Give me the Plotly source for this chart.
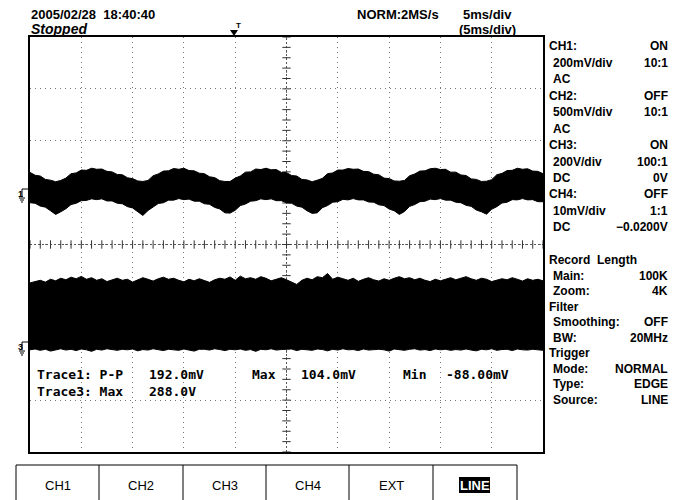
import numpy as np
import plotly.graph_objects as go

# ---------------- data (read from the screen capture) ----------------
# sample times in ms (5 ms/div, 10 div, trigger at 4 div)
t_ms = np.round(np.arange(-20.0, 30.0001, 0.5), 2)

# CH1 (AC, 200 mV/div): upper / lower envelope of the noisy band, mV
ch1_upper_mV = [88, 77, 74, 61, 58, 52,
                57, 66, 83, 86, 97, 96, 104, 100, 101, 92, 90, 80, 79, 67, 64, 55,
                53, 57, 75, 82, 93, 94, 103, 100, 104, 95, 94, 85, 83, 71, 68, 56, 53,
                53, 66, 74, 89, 90, 101, 99, 104, 98, 99, 88, 87, 76, 74, 61, 59, 52,
                58, 65, 83, 86, 97, 97, 103, 100, 101, 92, 91, 81, 79, 66, 64, 55,
                54, 57, 75, 82, 93, 94, 102, 104, 99, 100, 89, 89, 78, 76, 63, 61, 53,
                54, 60, 79, 84, 95, 96, 104, 100, 102, 93, 92, 83]
ch1_lower_mV = [-29, -31, -42, -46, -60, -74,
                -64, -52, -36, -31, -21, -20, -14, -17, -14, -22, -22, -31, -33, -44, -49, -64,
                -78, -59, -47, -32, -29, -19, -19, -13, -17, -15, -23, -23, -33, -35, -47, -53, -68,
                -69, -58, -40, -34, -23, -21, -14, -17, -14, -21, -21, -29, -31, -42, -46, -60, -70,
                -68, -48, -40, -27, -25, -16, -18, -13, -18, -18, -26, -27, -37, -40, -53, -60,
                -74, -63, -43, -36, -25, -23, -15, -17, -13, -19, -19, -27, -29, -39, -43, -57, -64,
                -73, -54, -44, -30, -27, -17, -18, -13, -18, -17, -25, -25]

# CH3 (DC, 200 V/div): switching waveform envelope, V
ch3_upper_V = [252, 258, 262, 255, 266, 260, 270, 264, 274, 268, 277, 266, 272, 262, 268, 257, 264,
               270, 262, 266, 255, 264, 272, 266, 259, 268, 274, 266, 270, 262, 256, 266, 260, 268,
               262, 254, 264, 270, 266, 275, 262, 278, 268, 272, 266, 276, 270, 260, 266, 272, 264,
               256, 246, 262, 270, 264, 276, 272, 288, 266, 274, 268, 262, 270, 258, 266, 272, 264,
               259, 268, 262, 270, 276, 268, 272, 264, 270, 262, 257, 266, 260, 266, 272, 264, 270,
               276, 268, 262, 270, 266, 257, 262, 268, 264, 272, 266, 259, 268, 262, 266, 260]
ch3_lower_V = [-6, -3, -8, -4, -11, -5, -2, -7, -4, -9, -3, -6, -12, -4, -7, -2, -5,
               -8, -4, -6, -3, -10, -5, -7, -2, -6, -9, -4, -5, -8, -3, -6, -11, -4,
               -4, -7, -2, -5, -9, -4, -6, -3, -8, -5, -12, -4, -6, -2, -7, -5, -3,
               -3, -9, -4, -6, -8, -3, -5, -10, -4, -7, -2, -6, -5, -9, -3, -7, -6,
               -4, -6, -11, -3, -5, -8, -4, -2, -7, -5, -9, -3, -6, -4, -8, -5, -7,
               -3, -7, -10, -4, -6, -2, -8, -5, -4, -9, -3, -6, -7, -4, -5, -8]

CH1_MV_PER_DIV = 200
CH1_POS_DIV = 0.95
CH3_V_PER_DIV = 200
CH3_POS_DIV = -2.0

header_date = "2005/02/28\u00a0\u00a018:40:40"
status_text = "Stopped"
acq_text = "NORM:2MS/s"
tdiv_text = "5ms/div"
tdiv_zoom_text = "(5ms/div)"

panel_top = [("CH1:", "ON", False), ("200mV/div", "10:1", True), ("AC", "", True),
             ("CH2:", "OFF", False), ("500mV/div", "10:1", True), ("AC", "", True),
             ("CH3:", "ON", False), ("200V/div", "100:1", True), ("DC", "0V", True),
             ("CH4:", "OFF", False), ("10mV/div", "1:1", True), ("DC", "\u22120.0200V", True)]
panel_bottom = [("Record\u00a0\u00a0Length", "", False), ("Main:", "100K", True), ("Zoom:", "4K", True),
                ("Filter", "", False), ("Smoothing:", "OFF", True), ("BW:", "20MHz", True),
                ("Trigger", "", False), ("Mode:", "NORMAL", True), ("Type:", "EDGE", True),
                ("Source:", "LINE", True)]

trace1_cells = ["Trace1: P-P", "192.0mV", "Max", "104.0mV", "Min", "-88.00mV"]
trace3_cells = ["Trace3: Max", "288.0V"]
buttons = ["CH1", "CH2", "CH3", "CH4", "EXT", "LINE"]
selected_button = "LINE"

assert len(ch1_upper_mV) == len(t_ms) and len(ch1_lower_mV) == len(t_ms)
assert len(ch3_upper_V) == len(t_ms) and len(ch3_lower_V) == len(t_ms)

# ---------------- figure ----------------
W, H = 673, 500
L, R, T, B = 30, 543, 37, 452


def ax(px):
    return (px - L) / (R - L)


def ay(py):
    return (B - py) / (B - T)


ch1_up = np.array(ch1_upper_mV) / CH1_MV_PER_DIV + CH1_POS_DIV
ch1_lo = np.array(ch1_lower_mV) / CH1_MV_PER_DIV + CH1_POS_DIV
ch3_up = np.array(ch3_upper_V) / CH3_V_PER_DIV + CH3_POS_DIV
ch3_lo = np.array(ch3_lower_V) / CH3_V_PER_DIV + CH3_POS_DIV

fig = go.Figure()

# centre cross-hair with minor tick marks
fig.add_trace(go.Scatter(x=[-20, 30], y=[0, 0], mode="lines",
                         line=dict(color="#555", width=1, dash="2px,2px"),
                         hoverinfo="skip", showlegend=False))
fig.add_trace(go.Scatter(x=[5, 5], y=[-4, 4], mode="lines",
                         line=dict(color="#555", width=1, dash="2px,2px"),
                         hoverinfo="skip", showlegend=False))
hx = np.arange(-20, 30.01, 1.0)
fig.add_trace(go.Scatter(x=hx, y=np.zeros_like(hx), mode="markers",
                         marker=dict(symbol="line-ns", size=6, line=dict(width=1, color="#333")),
                         hoverinfo="skip", showlegend=False))
vy = np.arange(-4, 4.01, 0.2)
fig.add_trace(go.Scatter(x=np.full_like(vy, 5.0), y=vy, mode="markers",
                         marker=dict(symbol="line-ew", size=6, line=dict(width=1, color="#333")),
                         hoverinfo="skip", showlegend=False))

# waveforms
for lo, up in ((ch1_lo, ch1_up), (ch3_lo, ch3_up)):
    fig.add_trace(go.Scatter(x=t_ms, y=lo, mode="lines", line=dict(color="black", width=1),
                             hoverinfo="skip", showlegend=False))
    fig.add_trace(go.Scatter(x=t_ms, y=up, mode="lines", line=dict(color="black", width=1),
                             fill="tonexty", fillcolor="black",
                             hoverinfo="skip", showlegend=False))

ann = []
sans = "Liberation Sans, Arial, sans-serif"
mono = "DejaVu Sans Mono, Liberation Mono, monospace"


def text(x, y, s, size=12, anchor="left", bold=True, italic=False, family=sans, color="black"):
    if bold:
        s = f"<b>{s}</b>"
    if italic:
        s = f"<i>{s}</i>"
    ann.append(dict(x=ax(x), y=ay(y), xref="paper", yref="paper", text=s, showarrow=False,
                    xanchor=anchor, yanchor="middle",
                    font=dict(size=size, family=family, color=color)))


# header
text(29, 14, header_date, 13)
text(29, 29, status_text, 14, italic=True)
text(355, 14, acq_text, 13)
text(461, 14, tdiv_text, 13)
text(457, 30, tdiv_zoom_text, 13)
text(234, 25, "T", 8)

# right panel
for i, (lab, val, ind) in enumerate(panel_top):
    y = 46 + i * 16.5
    text(551 if ind else 547, y, lab, 12)
    if val:
        text(670, y, val, 12, anchor="right")
for i, (lab, val, ind) in enumerate(panel_bottom):
    y = 260 + i * 15.5
    text(551 if ind else 547, y, lab, 12)
    if val:
        text(670, y, val, 12, anchor="right")

# readouts
cols1 = [35, 147, 250, 299, 401, 444]
for c, s in zip(cols1, trace1_cells):
    text(c, 374, s, 13, family=mono)
for c, s in zip(cols1, trace3_cells):
    text(c, 391, s, 13, family=mono)

# ground markers
text(16, 194, "1", 9)
text(16, 347, "3", 9)

# buttons
bx = [16, 99, 183, 266, 349, 433, 517]
shapes = []


def seg(x0, y0, x1, y1, w=1, color="black"):
    shapes.append(dict(type="line", xref="paper", yref="paper", x0=ax(x0), y0=ay(y0),
                       x1=ax(x1), y1=ay(y1), line=dict(color=color, width=w)))


seg(bx[0], 465, bx[-1], 465, 1.2)
for x in bx:
    seg(x, 465, x, 500, 1)
for i, lab in enumerate(buttons):
    cx = (bx[i] + bx[i + 1]) / 2
    if lab == selected_button:
        shapes.append(dict(type="rect", xref="paper", yref="paper", x0=ax(cx - 16), x1=ax(cx + 15),
                           y0=ay(493), y1=ay(477), fillcolor="black", line=dict(width=0)))
        text(cx, 485, lab, 13, anchor="center", color="white")
    else:
        text(cx, 485, lab, 13, anchor="center", bold=False)

# trigger arrow
shapes.append(dict(type="path", xref="paper", yref="paper",
                   path=f"M {ax(230)},{ay(30)} L {ax(238)},{ay(30)} L {ax(234)},{ay(36)} Z",
                   fillcolor="black", line=dict(width=0)))

# ground symbols
for gy in (195, 348):
    seg(22, gy - 6, 22, gy + 2, 1)
    seg(22, gy - 6, 28, gy - 6, 1)
    seg(19, gy + 3, 25, gy + 3, 1)
    seg(20, gy + 5, 24, gy + 5, 1)
    seg(21, gy + 7, 23, gy + 7, 1)

fig.update_layout(
    width=W, height=H,
    margin=dict(l=L, r=W - R, t=T, b=H - B),
    paper_bgcolor="white", plot_bgcolor="white",
    showlegend=False,
    annotations=ann, shapes=shapes,
    xaxis=dict(range=[-20, 30], tick0=-20, dtick=5, showticklabels=False, ticks="",
               showgrid=True, gridcolor="#777", gridwidth=1, griddash="1px,4px",
               zeroline=False, showline=True, linecolor="black", linewidth=1.5, mirror=True,
               fixedrange=True),
    yaxis=dict(range=[-4, 4], tick0=-4, dtick=1, showticklabels=False, ticks="",
               showgrid=True, gridcolor="#777", gridwidth=1, griddash="1px,4px",
               zeroline=False, showline=True, linecolor="black", linewidth=1.5, mirror=True,
               fixedrange=True),
)

fig.write_html("out.html", config={"displayModeBar": False},
               post_script="document.body.style.margin='0';document.body.style.overflow='hidden';")
